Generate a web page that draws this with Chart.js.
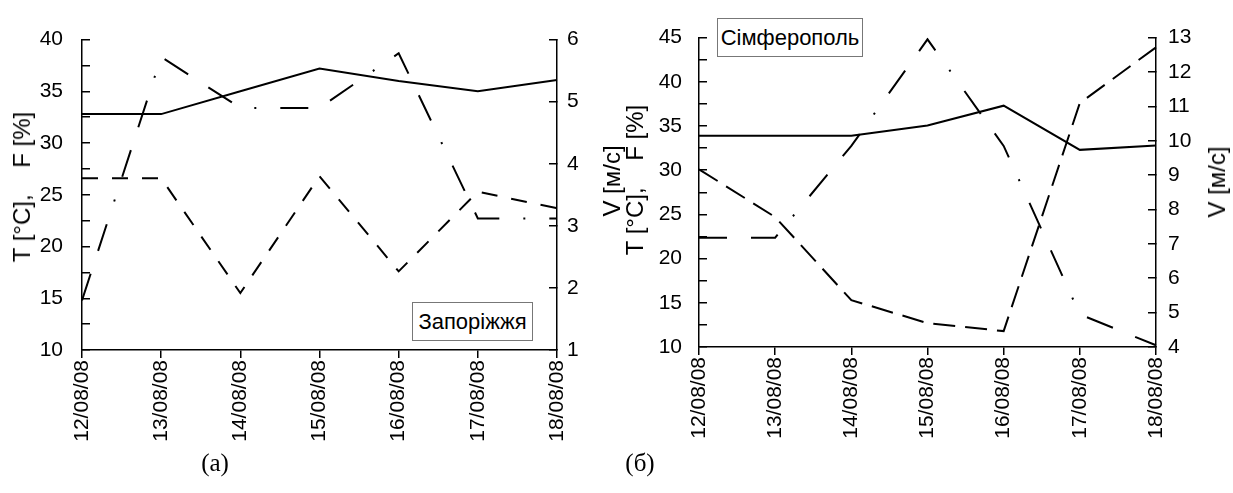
<!DOCTYPE html>
<html>
<head>
<meta charset="UTF-8">
<title>Запоріжжя, Сімферополь</title>
<script src="https://cdn.jsdelivr.net/npm/chart.js@4"></script>
<style>
  body { margin: 0; background: #fff; width: 1233px; height: 493px; position: relative; overflow: hidden;
         font-family: "Liberation Sans", Arial, sans-serif; color: #000; }
  canvas { position: absolute; top: 0; }
  .axt { position: absolute; font-size: 24px; white-space: pre; transform: translate(-50%, -50%) rotate(-90deg); line-height: 1; }
  .box { position: absolute; border: 1px solid #777; font-size: 22px; text-align: center; box-sizing: border-box; background: #fff; }
  .cap { position: absolute; font-family: "Liberation Serif", "Times New Roman", serif; font-size: 25px; transform: translateX(-50%); }
</style>
</head>
<body>
<canvas id="zap" width="625" height="493" style="left:0"></canvas>
<canvas id="sim" width="608" height="493" style="left:625px"></canvas>

<div class="axt" style="left:22px;top:187px">T [°C],    F [%]</div>
<div class="axt" style="left:612px;top:181px">V [м/с]</div>
<div class="axt" style="left:635px;top:180px">T [°C],    F [%]</div>
<div class="axt" style="left:1217px;top:182px">V [м/с]</div>

<div class="box" style="left:412px;top:302px;width:121px;height:39px;line-height:37px">Запоріжжя</div>
<div class="box" style="left:717px;top:18px;width:146px;height:39px;line-height:37px">Сімферополь</div>

<div class="cap" style="left:215px;top:449px">(а)</div>
<div class="cap" style="left:640px;top:449px">(б)</div>

<script>
// dates
const dates = ['12/08/08', '13/08/08', '14/08/08', '15/08/08', '16/08/08', '17/08/08', '18/08/08'];

// (а) Запоріжжя
const zapTemp = [32.8, 32.8, 35.0, 37.2, 36.0, 35.0, 36.1];
const zapHum  = [26.6, 26.6, 15.5, 26.8, 17.6, 25.3, 23.7];
const zapWind = [1.8, 5.72, 4.9, 4.9, 5.78, 3.12, 3.12];

// (б) Сімферополь
const simTemp = [33.9, 33.9, 33.9, 35.05, 37.3, 32.3, 32.8];
const simHum  = [30.1, 24.7, 15.3, 12.7, 11.8, 37.6, 43.9];
const simWind = [7.18, 7.18, 9.85, 12.95, 9.85, 4.95, 4.05];

// axis ranges [min, max]
const zapLeftRange  = [10, 40];
const zapRightRange = [1, 6];
const simLeftRange  = [10, 45];
const simRightRange = [4, 13];

Chart.defaults.font.family = "'Liberation Sans', Arial, sans-serif";
Chart.defaults.font.size = 21;
Chart.defaults.color = '#000';

const windDash = [28, 24, 28, 24, 2, 24];

function line(data, dash, axis) {
  return {
    data: data, yAxisID: axis,
    borderColor: '#000', borderWidth: 2, borderDash: dash, borderCapStyle: 'butt',
    pointRadius: 0, tension: 0, fill: false
  };
}

function makeChart(id, temp, hum, wind, leftRange, rightRange, g) {
  return new Chart(document.getElementById(id), {
    type: 'line',
    data: {
      labels: dates,
      datasets: [line(temp, [], 'y'), line(hum, g.humDash, 'y'), line(wind, windDash, 'y1')]
    },
    options: {
      responsive: false,
      animation: false,
      layout: { padding: { top: g.top, left: 0, right: 0, bottom: 0 } },
      plugins: { legend: { display: false }, tooltip: { enabled: false } },
      scales: {
        x: {
          grid: { drawOnChartArea: false, color: '#000', tickLength: 8, lineWidth: 1.5 },
          border: { color: '#000', width: 1.5 },
          ticks: { minRotation: 90, maxRotation: 90, padding: 2, autoSkip: false },
          afterFit: s => { s.height = g.xh; }
        },
        y: {
          position: 'left', min: leftRange[0], max: leftRange[1],
          grid: { drawOnChartArea: false, color: '#000', tickLength: -8, lineWidth: 1.5 },
          border: { color: '#000', width: 1.5 },
          ticks: { stepSize: 2.5, autoSkip: false, padding: g.lp, callback: v => (v % 5 === 0 ? v : '') },
          afterFit: s => { s.width = g.lw; }
        },
        y1: {
          position: 'right', min: rightRange[0], max: rightRange[1],
          grid: { drawOnChartArea: false, color: '#000', tickLength: -8, lineWidth: 1.5 },
          border: { color: '#000', width: 1.5 },
          ticks: { stepSize: 1, autoSkip: false, padding: g.rp },
          afterFit: s => { s.width = g.rw; }
        }
      }
    }
  });
}

makeChart('zap', zapTemp, zapHum, zapWind, zapLeftRange, zapRightRange,
  { top: 22, xh: 143, lw: 82, rw: 68, lp: 27, rp: 18, humDash: [16, 14] });
makeChart('sim', simTemp, simHum, simWind, simLeftRange, simRightRange,
  { top: 18, xh: 146, lw: 74, rw: 77, lp: 25, rp: 20, humDash: [22, 10] });
</script>
</body>
</html>
